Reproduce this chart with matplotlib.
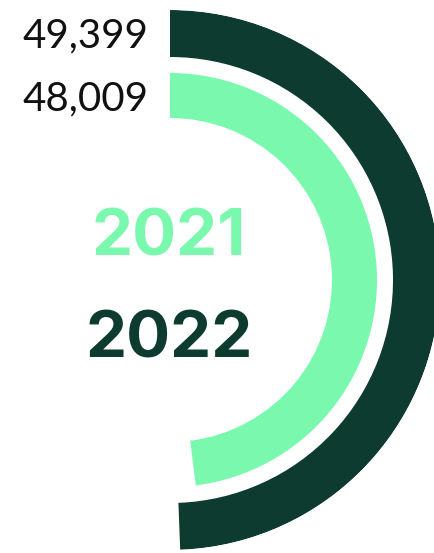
import numpy as np
import matplotlib.pyplot as plt

# data
years = ["2022", "2021"]
values = [49399, 48009]
labels = ["49,399", "48,009"]
full_scale = 100000

dark = "#0e3b2f"
light = "#7af9ae"
colors = [dark, light]

W, H = 435, 553
fig = plt.figure(figsize=(W / 100, H / 100), dpi=100)

# polar axes, centre at pixel (170, 280) from top, radius 270 px
cx, cy, R = 170, H - 280, 270
ax = fig.add_axes([(cx - R) / W, (cy - R) / H, 2 * R / W, 2 * R / H], projection="polar")
ax.set_theta_zero_location("N")
ax.set_theta_direction(-1)
ax.set_ylim(0, R)
ax.axis("off")

bottoms = [223, 162]
heights = [47, 45]
for v, b, h, c in zip(values, bottoms, heights, colors):
    span = v / full_scale * 2 * np.pi
    ax.bar(0, h, width=span, bottom=b, align="edge", color=c, linewidth=0)

# value labels at top left (baseline positions in px from top)
for lab, y in zip(labels, [47, 110]):
    fig.text(148 / W, 1 - y / H, lab, ha="right", va="baseline",
             fontsize=29, family="Lato", fontweight="normal", color="#111111")

# year labels in the centre
for yr, y, c in zip(years, [357, 256], colors):
    fig.text(169 / W, 1 - y / H, yr, ha="center", va="baseline",
             fontsize=47, family="Inter", fontweight="bold", color=c)

fig.savefig("out.png", dpi=100)
